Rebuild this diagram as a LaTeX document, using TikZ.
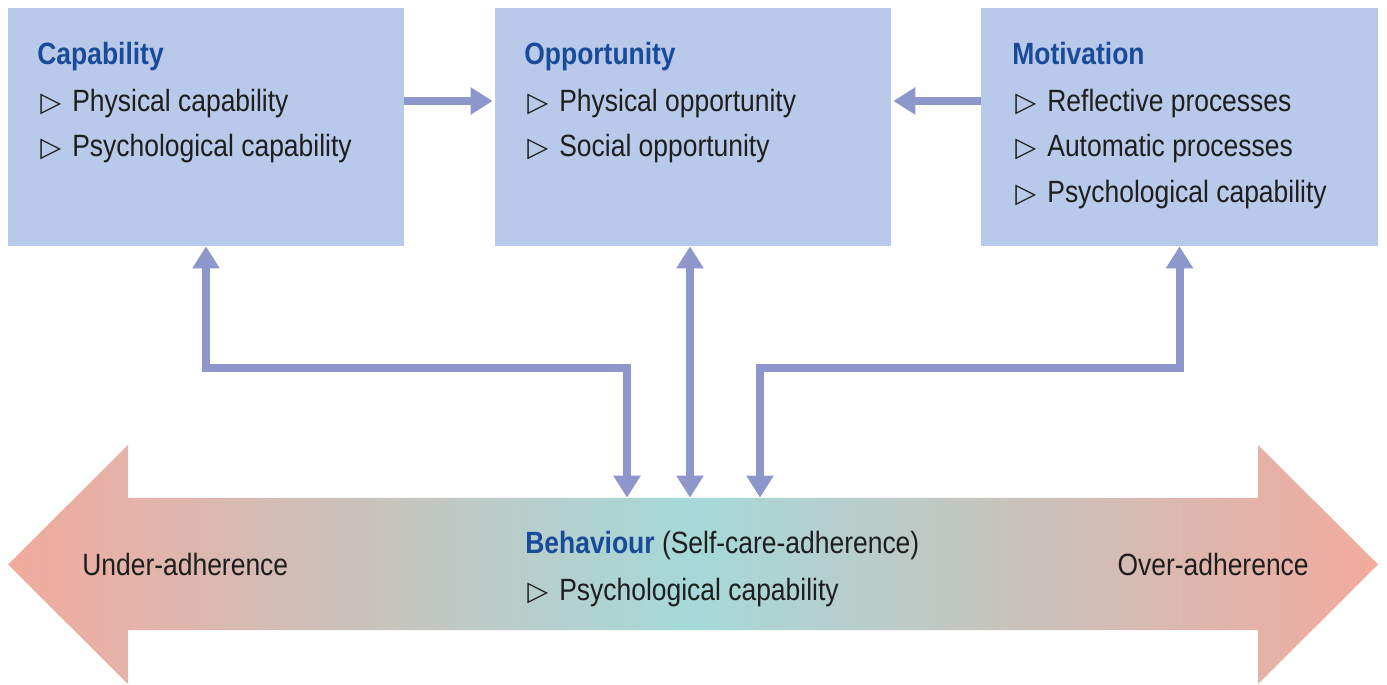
\documentclass[tikz,border=0pt]{standalone}
\usepackage{fontspec}
\setmainfont{Liberation Sans}[FakeStretch=0.86]
\newfontfamily\symfont{DejaVu Sans}
\usetikzlibrary{arrows.meta}
\definecolor{box_blue}{HTML}{B9C9E9}
\definecolor{arrow_blue}{HTML}{8E97CC}
\definecolor{head_blue}{HTML}{1A4B9B}
\definecolor{text_black}{HTML}{1E1E1E}
\definecolor{salmon}{HTML}{F2AA9E}
\definecolor{teal_light}{HTML}{A5D9D9}
\newcommand{\puce}{\makebox[0.64cm][l]{\symfont\fontsize{15.5}{15.5}\selectfont ▷}}

\begin{document}
\begin{tikzpicture}[
  box/.style={fill=box_blue, minimum width=7.92cm, minimum height=4.76cm, inner sep=0},
  flow/.style={draw=arrow_blue, line width=0.16cm, -{Triangle[width=0.52cm,length=0.44cm]}},
  both/.style={flow, {Triangle[width=0.52cm,length=0.44cm]}-{Triangle[width=0.52cm,length=0.44cm]}},
  titre/.style={anchor=base west, inner sep=0, text=head_blue, font=\fontsize{17.5}{20}\selectfont\bfseries},
  item/.style={anchor=base west, inner sep=0, text=text_black, font=\fontsize{17.5}{20}\selectfont},
]
\useasboundingbox (0,0) rectangle (27.74,13.68);

\node[box] (capa) at (4.12,11.14) {};%capability
\node[box] (oppo) at (13.86,11.14) {};%opportunity
\node[box, minimum width=7.94cm] (moti) at (23.59,11.14) {};%motivation

%la grande fleche
\shade[left color=salmon, right color=salmon, middle color=teal_light]
  (0.16,2.39) -- (2.56,4.78) -- (2.56,3.72) -- (25.16,3.72) -- (25.16,4.78) -- (27.56,2.39)
  -- (25.16,0) -- (25.16,1.08) -- (2.56,1.08) -- (2.56,0) -- cycle;
\node[minimum width=22.6cm, minimum height=2.64cm, inner sep=0] (beh) at (13.86,2.40) {};%corps

\coordinate (coude_g) at (12.54,6.32);
\coordinate (coude_d) at (15.20,6.32);

\draw[flow, shorten >=0.04cm] (capa.east |- 0,11.66) -- (oppo.west |- 0,11.66);
\draw[flow, shorten >=0.04cm] (moti.west |- 0,11.66) -- (oppo.east |- 0,11.66);
\draw[both] (capa.south) |- (coude_g) -- (coude_g |- beh.north);
\draw[both] (oppo.south -| 13.80,0) -- (beh.north -| 13.80,0);
\draw[both] (moti.south) |- (coude_d) -- (coude_d |- beh.north);

%textes
\node[titre] (capa_t) at (0.74,12.38) {Capability};
\node[item] (capa_1) at (0.80,11.44) {\puce Physical capability};
\node[item] (capa_2) at (0.80,10.54) {\puce Psychological capability};

\node[titre] (oppo_t) at (10.48,12.38) {Opportunity};
\node[item] (oppo_1) at (10.54,11.44) {\puce Physical opportunity};
\node[item] (oppo_2) at (10.54,10.54) {\puce Social opportunity};

\node[titre] (moti_t) at (20.24,12.38) {Motivation};
\node[item] (moti_1) at (20.30,11.44) {\puce Reflective processes};
\node[item] (moti_2) at (20.30,10.54) {\puce Automatic processes};
\node[item] (moti_3) at (20.30,9.62) {\puce Psychological capability};

\node[titre] (beh_t) at (10.50,2.60) {Behaviour {\mdseries\color{text_black} (Self-care-adherence)}};
\node[item] (beh_1) at (10.54,1.68) {\puce Psychological capability};
\node[item] (under) at (1.64,2.18) {Under-adherence};
\node[item, anchor=base east] (over) at (26.18,2.18) {Over-adherence};
\end{tikzpicture}
\end{document}
